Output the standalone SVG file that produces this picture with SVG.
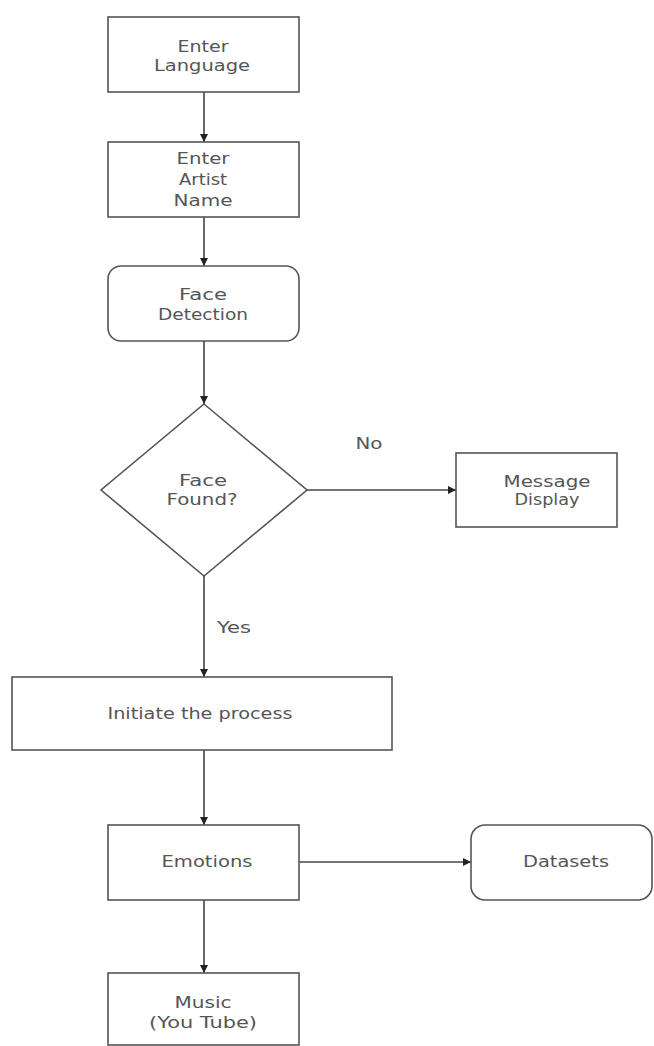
<svg xmlns="http://www.w3.org/2000/svg" width="654" height="1046" viewBox="0 0 654 1046">
<defs>
<style>
.n{fill:#fff;stroke:#555;stroke-width:1.6}
.t{font-family:"DejaVu Sans","Liberation Sans",sans-serif;font-size:16px;fill:#555;text-anchor:middle}
.c{stroke:#444;stroke-width:1.6;fill:none}
</style>
<marker id="ah" viewBox="0 0 10 10" refX="10" refY="5" markerWidth="8" markerHeight="8" markerUnits="userSpaceOnUse" orient="auto">
<path d="M0,0 L10,5 L0,10 z" fill="#222"/>
</marker>
</defs>
<rect width="654" height="1046" fill="#fff"/>
<g id="connectors">
<line class="c" x1="204" y1="92" x2="204" y2="142" marker-end="url(#ah)"/>
<line class="c" x1="204" y1="217" x2="204" y2="266" marker-end="url(#ah)"/>
<line class="c" x1="204" y1="341" x2="204" y2="404" marker-end="url(#ah)"/>
<line class="c" x1="307" y1="490" x2="456" y2="490" marker-end="url(#ah)"/>
<line class="c" x1="204" y1="576" x2="204" y2="677" marker-end="url(#ah)"/>
<line class="c" x1="204" y1="750" x2="204" y2="825" marker-end="url(#ah)"/>
<line class="c" x1="299" y1="862" x2="471" y2="862" marker-end="url(#ah)"/>
<line class="c" x1="204" y1="900" x2="204" y2="973" marker-end="url(#ah)"/>
<text class="t" x="369" y="449" textLength="27" lengthAdjust="spacingAndGlyphs">No</text>
<text class="t" x="234" y="633" textLength="34" lengthAdjust="spacingAndGlyphs">Yes</text>
</g>
<g id="enter-language">
<rect class="n" x="108" y="17" width="191" height="75"/>
<text class="t" x="203" y="52" textLength="51" lengthAdjust="spacingAndGlyphs">Enter</text>
<text class="t" x="202" y="71" textLength="96" lengthAdjust="spacingAndGlyphs">Language</text>
</g>
<g id="enter-artist-name">
<rect class="n" x="108" y="142" width="191" height="75"/>
<text class="t" x="203" y="164" textLength="53" lengthAdjust="spacingAndGlyphs">Enter</text>
<text class="t" x="203" y="185" textLength="48" lengthAdjust="spacingAndGlyphs">Artist</text>
<text class="t" x="203" y="206" textLength="59" lengthAdjust="spacingAndGlyphs">Name</text>
</g>
<g id="face-detection">
<rect class="n" x="108" y="266" width="191" height="75" rx="13"/>
<text class="t" x="203" y="300" textLength="48" lengthAdjust="spacingAndGlyphs">Face</text>
<text class="t" x="203" y="320" textLength="90" lengthAdjust="spacingAndGlyphs">Detection</text>
</g>
<g id="face-found">
<polygon class="n" points="204,404 307,490 204,576 101,490"/>
<text class="t" x="203" y="486" textLength="48" lengthAdjust="spacingAndGlyphs">Face</text>
<text class="t" x="202" y="505" textLength="71" lengthAdjust="spacingAndGlyphs">Found?</text>
</g>
<g id="message-display">
<rect class="n" x="456" y="453" width="161" height="74"/>
<text class="t" x="547" y="487" textLength="87" lengthAdjust="spacingAndGlyphs">Message</text>
<text class="t" x="547" y="505" textLength="65" lengthAdjust="spacingAndGlyphs">Display</text>
</g>
<g id="initiate">
<rect class="n" x="12" y="677" width="380" height="73"/>
<text class="t" x="200" y="719" textLength="185" lengthAdjust="spacingAndGlyphs">Initiate the process</text>
</g>
<g id="emotions">
<rect class="n" x="108" y="825" width="191" height="75"/>
<text class="t" x="207" y="867" textLength="91" lengthAdjust="spacingAndGlyphs">Emotions</text>
</g>
<g id="datasets">
<rect class="n" x="471" y="825" width="181" height="75" rx="14"/>
<text class="t" x="566" y="867" textLength="86" lengthAdjust="spacingAndGlyphs">Datasets</text>
</g>
<g id="music">
<rect class="n" x="108" y="973" width="191" height="72"/>
<text class="t" x="203" y="1008" textLength="57" lengthAdjust="spacingAndGlyphs">Music</text>
<text class="t" x="203" y="1028" textLength="108" lengthAdjust="spacingAndGlyphs">(You Tube)</text>
</g>
</svg>
